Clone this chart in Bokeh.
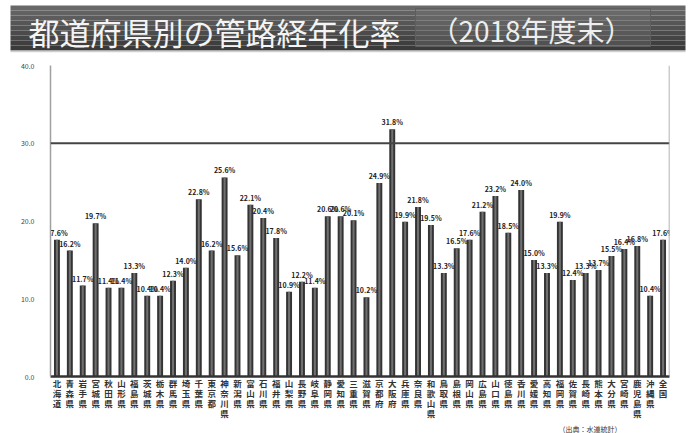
from bokeh.plotting import figure
from bokeh.layouts import column
from bokeh.models import (FactorRange, Range1d, FixedTicker, Span,
                          ColumnDataSource, NumeralTickFormatter, CustomJSTickFormatter)
from bokeh.core.properties import value
from bokeh.embed import file_html
from bokeh.resources import INLINE

FONT = "Noto Sans CJK JP"

title_main = "都道府県別の管路経年化率"
title_year = "（2018年度末）"
note_text = "（出典：水道統計）"

prefectures = ["北海道", "青森県", "岩手県", "宮城県", "秋田県", "山形県", "福島県",
               "茨城県", "栃木県", "群馬県", "埼玉県", "千葉県", "東京都", "神奈川県",
               "新潟県", "富山県", "石川県", "福井県", "山梨県", "長野県", "岐阜県",
               "静岡県", "愛知県", "三重県", "滋賀県", "京都府", "大阪府", "兵庫県",
               "奈良県", "和歌山県", "鳥取県", "島根県", "岡山県", "広島県", "山口県",
               "徳島県", "香川県", "愛媛県", "高知県", "福岡県", "佐賀県", "長崎県",
               "熊本県", "大分県", "宮崎県", "鹿児島県", "沖縄県", "全国"]
rates = [17.6, 16.2, 11.7, 19.7, 11.4, 11.4, 13.3, 10.4, 10.4, 12.3, 14.0, 22.8,
         16.2, 25.6, 15.6, 22.1, 20.4, 17.8, 10.9, 12.2, 11.4, 20.6, 20.6, 20.1,
         10.2, 24.9, 31.8, 19.9, 21.8, 19.5, 13.3, 16.5, 17.6, 21.2, 23.2, 18.5,
         24.0, 15.0, 13.3, 19.9, 12.4, 13.3, 13.7, 15.5, 16.4, 16.8, 10.4, 17.6]
y_ticks = [0, 10, 20, 30, 40]
reference_line = 30

W, H = 695, 433
TH, NH = 56, 11          # banner and note strip heights
MH = H - TH - NH         # main chart height


def blank(height):
    f = figure(width=W, height=height, x_range=Range1d(0, W), y_range=Range1d(height, 0),
               toolbar_location=None, output_backend="svg", min_border=0,
               x_axis_type=None, y_axis_type=None)
    f.grid.visible = False
    f.outline_line_color = None
    f.background_fill_color = "white"
    f.border_fill_color = "white"
    f.frame_align = False
    return f


# ---------------- title banner ----------------
t = blank(TH)
top, bot, n = 5, 50, 9
c0, c1 = (0x68, 0x68, 0x68), (0x3a, 0x3a, 0x3a)
tops, bots, cols = [], [], []
for i in range(n):
    f = i / (n - 1)
    tops.append(top + (bot - top) * i / n)
    bots.append(top + (bot - top) * (i + 1) / n)
    cols.append("#%02x%02x%02x" % tuple(int(c0[k] + (c1[k] - c0[k]) * f) for k in range(3)))
t.quad(left=[10] * n, right=[685] * n, top=tops, bottom=bots, fill_color=cols, line_color=None)
t.quad(left=[415], right=[650], top=[8], bottom=[46], fill_color="#7a7a7a",
       fill_alpha=0.3, line_color="#5e5e5e", line_width=1)
t.segment(x0=[10], y0=[51], x1=[685], y1=[51], line_color="#cfcfcf", line_width=1.5)
t.text(x=[28], y=[31], text=[title_main], text_font=value(FONT), text_font_size="31px",
       text_baseline="middle", text_align="left", text_color="#f4f4f4")
t.text(x=[531], y=[29], text=[title_year], text_font=value(FONT), text_font_size="28px",
       text_baseline="middle", text_align="center", text_color="#eeeeee")

# ---------------- main chart ----------------
src = ColumnDataSource(dict(name=prefectures, rate=rates,
                            lab=["%.1f%%" % v for v in rates]))
p = figure(width=W, height=MH, x_range=FactorRange(*prefectures, range_padding=0),
           y_range=Range1d(0, 40), toolbar_location=None, output_backend="svg",
           min_border_left=50, min_border_right=26, min_border_top=65 - TH,
           min_border_bottom=MH - (377 - TH))
p.frame_align = False
p.outline_line_color = None
p.background_fill_color = "white"
p.border_fill_color = "white"
p.xgrid.visible = False
p.ygrid.ticker = FixedTicker(ticks=[40])
p.ygrid.grid_line_color = "#e6e6e6"

p.vbar(x="name", top="rate", width=0.46, source=src, fill_color="#343434", line_color=None)
p.vbar(x="name", top="rate", width=0.16, source=src, fill_color="#707070", line_color=None)
p.text(x="name", y="rate", text="lab", source=src, text_font=value(FONT),
       text_font_size="7px", text_font_style="bold", text_align="center",
       text_baseline="bottom", y_offset=-2, text_color="#222222")

p.add_layout(Span(location=reference_line, dimension="width", line_color="#444444",
                  line_width=2))
p.add_layout(Span(location=len(prefectures), dimension="height", line_color="#9a9a9a",
                  line_width=1.5))

ya = p.yaxis[0]
ya.ticker = FixedTicker(ticks=y_ticks)
ya.formatter = NumeralTickFormatter(format="0.0")
ya.major_tick_line_color = None
ya.minor_tick_line_color = None
ya.axis_line_color = "#a0a0a0"
ya.axis_line_width = 1.5
ya.major_label_text_font = FONT
ya.major_label_text_font_size = "7px"
ya.major_label_text_color = "#444444"
ya.major_label_standoff = 10

# vertical (tategaki) category labels: one character per line
xa = p.xaxis[0]
xa.formatter = CustomJSTickFormatter(code="return String(tick).split('').join('\\n');")
xa.major_tick_line_color = None
xa.minor_tick_line_color = None
xa.major_tick_out = 0
xa.major_tick_in = 0
xa.axis_line_color = "#333333"
xa.axis_line_width = 2.5
xa.major_label_text_font = FONT
xa.major_label_text_font_size = "8.5px"
xa.major_label_text_font_style = "bold"
xa.major_label_text_color = "#333333"
xa.major_label_text_line_height = 0.85
xa.major_label_standoff = 0

# ---------------- source note ----------------
nfig = blank(NH)
nfig.text(x=[558], y=[0.5], text=[note_text], text_font=value(FONT),
          text_font_size="7px", text_baseline="top", text_align="left",
          text_color="#333333")

layout = column(t, p, nfig, spacing=0)
open("out.html", "w").write(file_html(layout, INLINE))
